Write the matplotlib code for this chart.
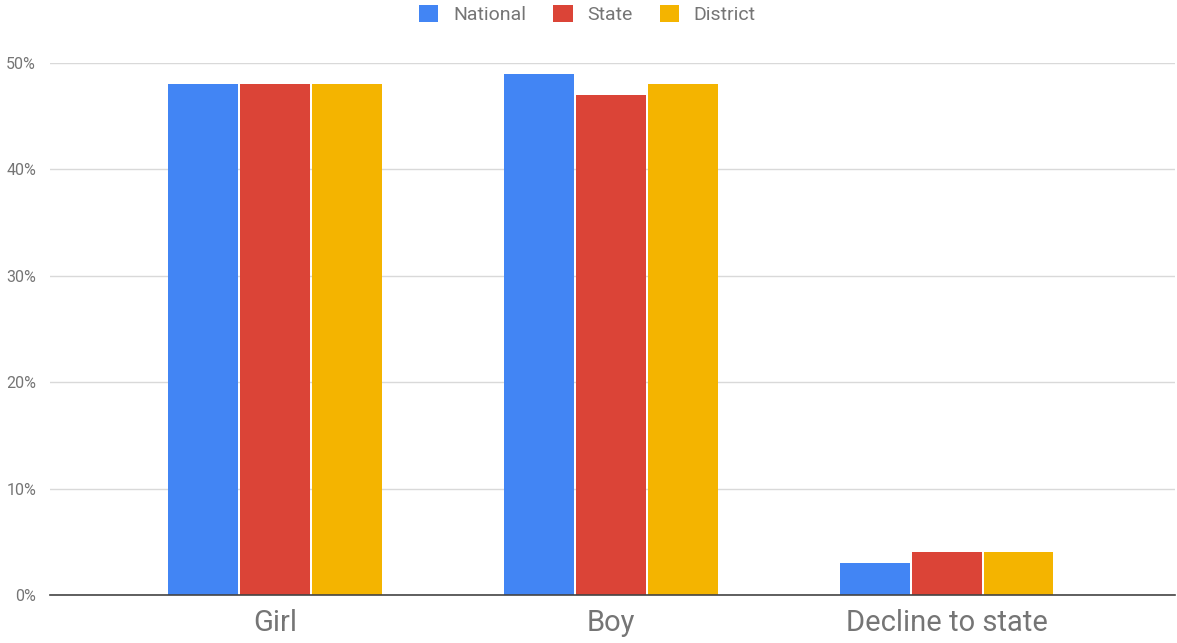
import matplotlib.pyplot as plt
import numpy as np

categories = ["Girl", "Boy", "Decline to state"]
series_names = ["National", "State", "District"]
national = [48, 49, 3]
state = [48, 47, 4]
district = [48, 48, 4]
yticks = [0, 10, 20, 30, 40, 50]

colors = ["#4285F4", "#DB4437", "#F4B400"]

plt.rcParams["font.family"] = ["Roboto", "DejaVu Sans"]

fig = plt.figure(figsize=(11.77, 6.43), dpi=100)
ax = fig.add_axes([50 / 1177, 48 / 643, 1125 / 1177, 532 / 643])

x = np.arange(len(categories))
width = 0.208
step = 0.214
for i, (name, vals) in enumerate(zip(series_names, [national, state, district])):
    ax.bar(x + (i - 1) * step, vals, width, color=colors[i], label=name, zorder=3)

ax.set_xlim(-0.67, 2.68)
ax.set_ylim(0, 50)
ax.set_yticks(yticks)
ax.set_yticklabels([f"{v}%" for v in yticks], fontsize=11.5, color="#757575")
ax.set_xticks(x)
ax.set_xticklabels(categories, fontsize=21, color="#757575")
ax.tick_params(axis="both", length=0)
ax.tick_params(axis="y", pad=10)
ax.tick_params(axis="x", pad=10)

ax.grid(axis="y", color="#d9d9d9", linewidth=1, zorder=0)
for s in ["top", "right", "left"]:
    ax.spines[s].set_visible(False)
ax.spines["bottom"].set_color("#444444")
ax.spines["bottom"].set_linewidth(1.2)
ax.spines["bottom"].set_zorder(4)

fig.legend(loc="upper center", bbox_to_anchor=(0.499, 1.02), ncol=3, frameon=False,
           fontsize=14, handlelength=1, handleheight=1, handletextpad=0.75,
           columnspacing=1.4, labelcolor="#757575")

fig.savefig("out.png", dpi=100)
